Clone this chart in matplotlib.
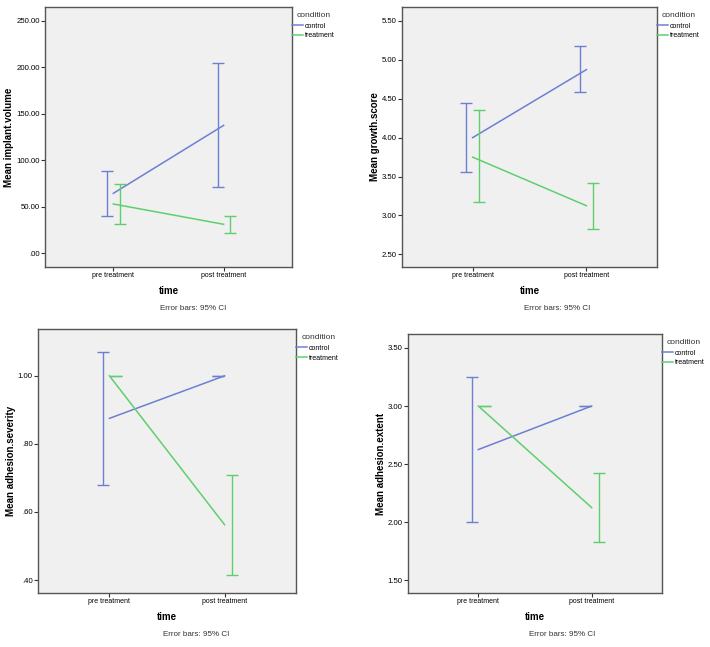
import numpy as np
import matplotlib
matplotlib.use('Agg')
import matplotlib.pyplot as plt

plt.rcParams['font.family'] = ['Liberation Sans', 'DejaVu Sans']

times = ['pre treatment', 'post treatment']
conditions = ['control', 'treatment']

# mean, lower 95% CI, upper 95% CI  (pre, post)
implant_control = [64.5, 137.5]
implant_control_lo = [40.5, 71.6]
implant_control_hi = [88.5, 204.0]
implant_treat = [53.0, 31.2]
implant_treat_lo = [31.5, 22.2]
implant_treat_hi = [74.5, 40.0]

growth_control = [4.0, 4.875]
growth_control_lo = [3.56, 4.59]
growth_control_hi = [4.45, 5.18]
growth_treat = [3.75, 3.125]
growth_treat_lo = [3.17, 2.83]
growth_treat_hi = [4.35, 3.42]

severity_control = [0.875, 1.0]
severity_control_lo = [0.68, 1.0]
severity_control_hi = [1.07, 1.0]
severity_treat = [1.0, 0.5625]
severity_treat_lo = [1.0, 0.415]
severity_treat_hi = [1.0, 0.71]

extent_control = [2.625, 3.0]
extent_control_lo = [2.0, 3.0]
extent_control_hi = [3.25, 3.0]
extent_treat = [3.0, 2.125]
extent_treat_lo = [3.0, 1.83]
extent_treat_hi = [3.0, 2.42]

colors = {'control': '#6d7fd3', 'treatment': '#5fcf6e'}

W, H = 710, 647
fig = plt.figure(figsize=(W / 100, H / 100), dpi=100)


def spss_fmt(v):
    s = '%.2f' % v
    if s.startswith('0.'):
        s = s[1:]
    return s


panels = [
    dict(ylabel='Mean implant.volume', box=(45, 7, 292, 267), ylim=(-14.7, 264.7),
         yticks=np.arange(0, 251, 50), note_x=193,
         data={'control': (implant_control, implant_control_lo, implant_control_hi),
               'treatment': (implant_treat, implant_treat_lo, implant_treat_hi)}),
    dict(ylabel='Mean growth.score', box=(402, 7, 657, 267), ylim=(2.337, 5.68),
         yticks=np.arange(2.5, 5.51, 0.5), note_x=557,
         data={'control': (growth_control, growth_control_lo, growth_control_hi),
               'treatment': (growth_treat, growth_treat_lo, growth_treat_hi)}),
    dict(ylabel='Mean adhesion.severity', box=(38, 329, 296, 593), ylim=(0.362, 1.1375),
         yticks=np.arange(0.4, 1.01, 0.2), note_x=196,
         data={'control': (severity_control, severity_control_lo, severity_control_hi),
               'treatment': (severity_treat, severity_treat_lo, severity_treat_hi)}),
    dict(ylabel='Mean adhesion.extent', box=(408, 334, 662, 593), ylim=(1.39, 3.62),
         yticks=np.arange(1.5, 3.51, 0.5), note_x=562,
         data={'control': (extent_control, extent_control_lo, extent_control_hi),
               'treatment': (extent_treat, extent_treat_lo, extent_treat_hi)}),
]

x = np.arange(len(times))
dodge = {'control': -0.055, 'treatment': 0.06}

for p in panels:
    l, t, r, b = p['box']
    ax = fig.add_axes([l / W, 1 - b / H, (r - l) / W, (b - t) / H])
    ax.set_facecolor('#f0f0f0')
    for cond in conditions:
        m, lo, hi = p['data'][cond]
        m = np.array(m)
        ax.plot(x, m, color=colors[cond], lw=1.1, label=cond)
        ax.errorbar(x + dodge[cond], m, yerr=[m - np.array(lo), np.array(hi) - m],
                    fmt='none', ecolor=colors[cond], elinewidth=1.0,
                    capsize=4.3, capthick=1.0)
    ax.set_xlim(-0.62, 1.62)
    ax.set_ylim(*p['ylim'])
    ax.set_xticks(x)
    ax.set_xticklabels(times, fontsize=5)
    ax.set_yticks(p['yticks'])
    ax.set_yticklabels([spss_fmt(v) for v in p['yticks']], fontsize=5.6)
    ax.tick_params(length=3, width=0.8, color='#333333', pad=0.8)
    for s in ax.spines.values():
        s.set_color('#555555')
        s.set_linewidth(1.0)
    ax.set_xlabel('time', fontsize=7, fontweight='bold', labelpad=5)
    ax.set_ylabel(p['ylabel'], fontsize=7, fontweight='bold', labelpad=1.5)
    # legend outside on the right, title placed separately
    ax.text(1.02, 0.967, 'condition', transform=ax.transAxes, fontsize=6,
            ha='left', va='center', color='#333333')
    ax.legend(loc='upper left', bbox_to_anchor=(1.0, 0.94), frameon=False,
              fontsize=5, handlelength=1.6, handletextpad=0.25,
              borderaxespad=0, borderpad=0, labelspacing=0.4)
    fig.text(p['note_x'] / W, 1 - (b + 42) / H, 'Error bars: 95% CI',
             fontsize=5.8, ha='center', va='center', color='#333333')

fig.savefig('out.png', dpi=100)
